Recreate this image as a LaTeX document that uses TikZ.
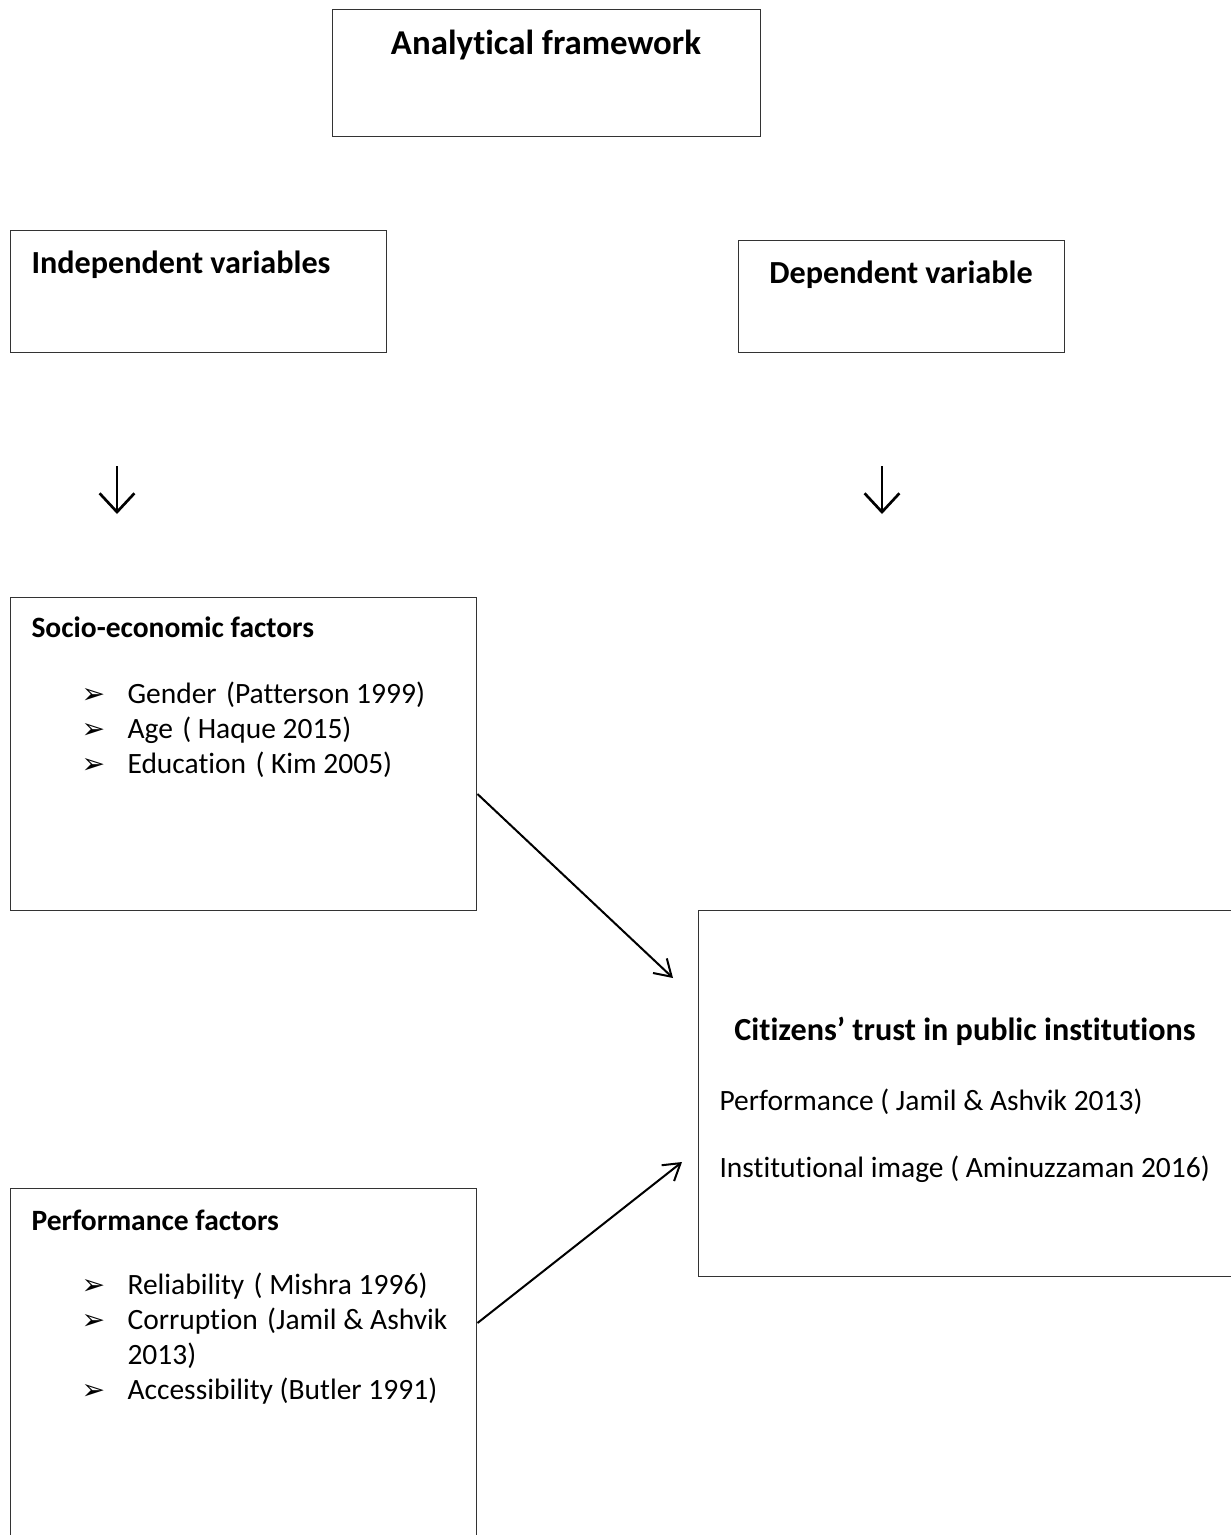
\documentclass[tikz,border=0pt]{standalone}
\usepackage{fontspec}
\setmainfont{Carlito}[RawFeature={-liga;-clig;-dlig}]
\newfontfamily\symfont{DejaVu Sans}
\usetikzlibrary{arrows.meta}

\def\pu{0.373pt}
\newcommand\gap{\ \hspace{1pt}}
\tikzset{
  box/.style={draw=black!80, line width=0.55pt, anchor=north west, inner sep=0pt},
  head/.style={font=\fontsize{12}{14}\selectfont\bfseries, anchor=base west, inner sep=0pt},
  subhead/.style={font=\fontsize{11}{13}\selectfont\bfseries, anchor=base west, inner sep=0pt},
  item/.style={font=\fontsize{11}{13}\selectfont, anchor=base west, inner sep=0pt},
  bul/.style={font=\symfont\fontsize{10.5}{12}\selectfont, anchor=base west, inner sep=0pt},
  link/.style={line width=0.75pt, -{Straight Barb[length=6pt,width=7.5pt]}},
  down/.style={line width=1pt, -{Straight Barb[length=7pt,width=13pt]}},
}

\begin{document}
\begin{tikzpicture}[x=\pu,y=-\pu]
\useasboundingbox (0,0) rectangle (1231,1535);
\clip (0,0) rectangle (1231,1535);

% boxes
\node[box, minimum width=428*\pu, minimum height=127*\pu] (title) at (332,9) {};
\node[box, minimum width=376*\pu, minimum height=122*\pu] (indep) at (10,230) {};
\node[box, minimum width=326*\pu, minimum height=112*\pu] (dep) at (738,240) {};
\node[box, minimum width=466*\pu, minimum height=313*\pu] (socio) at (10,597) {};
\node[box, minimum width=466*\pu, minimum height=360*\pu] (perf) at (10,1188) {};
\node[box, minimum width=560*\pu, minimum height=366*\pu] (trust) at (698,910) {};

% headings
\node[head, font=\fontsize{13}{15}\selectfont\bfseries, anchor=base] (titletxt) at (546,54) {Analytical framework};
\node[head] (indeptxt) at (31,273) {Independent variables};
\node[head, anchor=base] (deptxt) at (901,283) {Dependent variable};
\node[subhead] (sociotxt) at (31,637) {Socio-economic factors};
\node[subhead] (perftxt) at (31,1230) {Performance factors};
\node[head, anchor=base] (trusttxt) at (965,1040) {Citizens’ trust in public institutions};

% lists
\foreach \t [count=\i from 0] in {Gender\gap(Patterson 1999), Age\gap( Haque 2015), Education\gap( Kim 2005)} {
  \node[bul] (sb\i) at (81,703+35*\i) {➢};
  \node[item] (si\i) at (127,703+35*\i) {\t};
}
\node[bul] (pb0) at (81,1294) {➢};
\node[item] (pi0) at (127,1294) {Reliability\gap( Mishra 1996)};
\node[bul] (pb1) at (81,1329) {➢};
\node[item] (pi1) at (127,1329) {Corruption\gap(Jamil \& Ashvik};
\node[item] (pi1b) at (127,1364) {2013)};
\node[bul] (pb2) at (81,1399) {➢};
\node[item] (pi2) at (127,1399) {Accessibility (Butler 1991)};

\node[item] (tr1) at (719,1110) {Performance ( Jamil \& Ashvik 2013)};
\node[item] (tr2) at (719,1177) {Institutional image ( Aminuzzaman 2016)};

% arrows
\coordinate (d1a) at (117,466);
\coordinate (d1b) at (117,514);
\coordinate (d2a) at (882,466);
\coordinate (d2b) at (882,514);
\draw[down] (d1a) -- (d1b);
\draw[down] (d2a) -- (d2b);

\coordinate (t1) at (673,978);
\coordinate (t2) at (682,1162);
\draw[link] ([shift={(0,197)}]socio.north east) -- (t1);
\draw[link] ([shift={(0,135)}]perf.north east) -- (t2);
\end{tikzpicture}
\end{document}
